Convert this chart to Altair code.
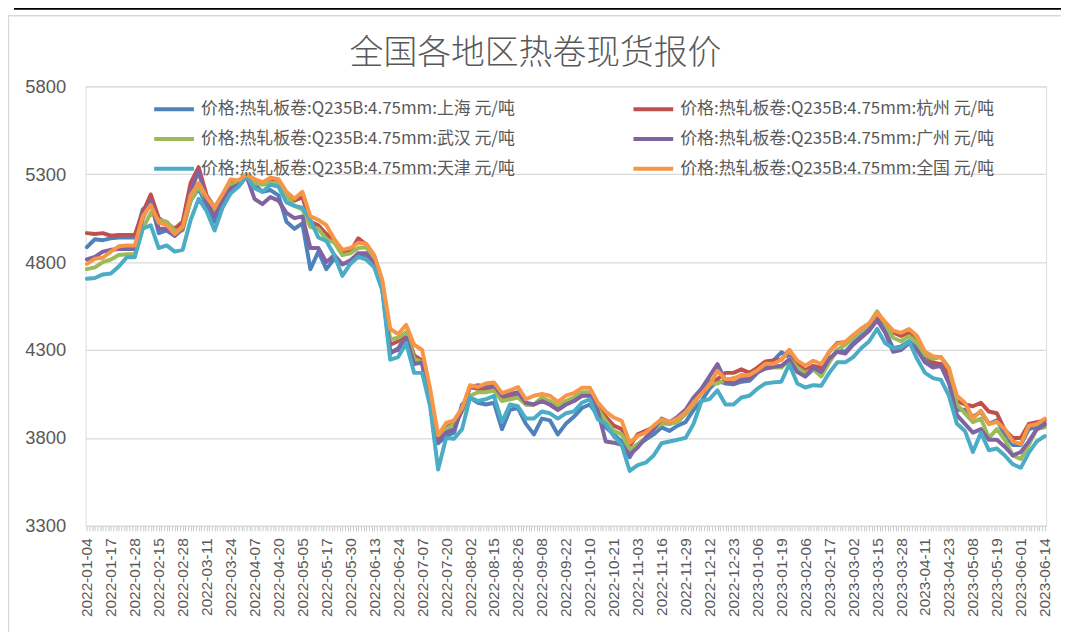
import altair as alt
import pandas as pd

# trading-day index (every 3rd trading day sampled)
idx = list(range(0, 361, 3))

shanghai = [4885, 4930, 4925, 4935, 4940, 4940, 4940,
            5100, 5140, 4965, 4980, 4950, 4990, 5150, 5220, 5120, 5030, 5130, 5210, 5230, 5290, 5240, 5200, 5210, 5180, 5030, 4990, 5020, 4760, 4860, 4760,
            4820, 4790, 4800, 4840, 4840, 4780, 4650, 4280, 4310, 4380, 4240, 4220, 4000, 3770, 3810, 3830, 3990, 4030, 4000, 3990, 4000, 3850, 3960, 3970, 3880, 3820, 3910, 3900, 3820, 3880, 3920, 3970,
            3990, 3930, 3860, 3820, 3780, 3690, 3764, 3790, 3820, 3860, 3840, 3870, 3890, 3960, 4010, 4080, 4125, 4110, 4105, 4120, 4125, 4170, 4200, 4240, 4287, 4260, 4180, 4150, 4190,
            4160, 4240, 4300, 4290, 4340, 4380, 4420, 4480, 4410, 4310, 4320, 4350, 4310, 4240, 4210, 4220, 4130, 3960, 3960, 3920, 3950, 3880, 3900, 3820, 3760, 3760, 3850, 3860, 3880]

hangzhou = [4965, 4960, 4965, 4950, 4955, 4955, 4955,
            5080, 5185, 5050, 5020, 4990, 5030, 5250, 5340, 5180, 5110, 5180, 5260, 5260, 5295, 5260, 5250, 5275, 5265, 5180, 5150, 5170, 5030, 5010, 4960,
            4920, 4855, 4860, 4935, 4900, 4830, 4680, 4330, 4350, 4400, 4270, 4240, 4030, 3790, 3860, 3880, 3960, 4090, 4080, 4070, 4080, 4020, 4030, 4040, 3990, 3990, 4010, 3990, 3960, 3990, 4010, 4040,
            4050, 3983, 3920, 3870, 3850, 3754, 3820, 3840, 3860, 3890, 3880, 3900, 3940, 3990, 4060, 4120, 4135, 4170, 4170, 4190, 4170, 4200, 4235, 4240, 4245, 4300, 4220, 4185, 4210,
            4200, 4290, 4340, 4344, 4380, 4420, 4450, 4490, 4450, 4400, 4380, 4400, 4340, 4270, 4230, 4220, 4170, 4010, 3990, 3980, 4000, 3950, 3940, 3845, 3800, 3800, 3880, 3890, 3900]

wuhan = [4760, 4770, 4800, 4815, 4840, 4845, 4845,
         4990, 5080, 5040, 5030, 4980, 4980, 5150, 5230, 5150, 5080, 5160, 5240, 5250, 5290, 5250, 5240, 5250, 5250, 5180, 5120, 5100, 5000, 4990, 4930,
         4910, 4840, 4850, 4880, 4885, 4810, 4680, 4360, 4370, 4400, 4250, 4230, 4020, 3800, 3850, 3880, 3950, 4040, 4060, 4060, 4070, 4010, 4020, 4030, 3990, 3990, 4030, 4010, 3980, 4010, 4030, 4060,
         4060, 3964, 3900, 3840, 3820, 3735, 3764, 3800, 3850, 3880, 3880, 3890, 3935, 3990, 4070, 4110, 4110, 4130, 4140, 4150, 4150, 4175, 4195, 4200, 4200, 4250, 4200, 4170, 4190,
         4150, 4230, 4300, 4330, 4370, 4410, 4450, 4520, 4450, 4370, 4350, 4380, 4340, 4270, 4250, 4260, 4200, 3990, 3940, 3890, 3910, 3800, 3850, 3790, 3700, 3680, 3760, 3850, 3860]

guangzhou = [4815, 4830, 4860, 4870, 4875, 4875, 4875,
             5050, 5150, 4990, 4990, 4950, 4990, 5200, 5320, 5140, 5060, 5150, 5220, 5240, 5290, 5160, 5130, 5170, 5150, 5080, 5050, 5060, 4880, 4880, 4800,
             4840, 4787, 4810, 4850, 4850, 4790, 4660, 4290, 4300, 4370, 4220, 4230, 4000, 3780, 3830, 3850, 3960, 4090, 4100, 4090, 4100, 4040, 4050, 4060, 4000, 3990, 4010, 3990, 3960, 3990, 4010, 4040,
             4040, 3954, 3780, 3773, 3760, 3706, 3745, 3800, 3850, 3910, 3890, 3920, 3960, 4030, 4080, 4150, 4220, 4125, 4110, 4130, 4135, 4175, 4195, 4205, 4210, 4245, 4175, 4150, 4200,
             4175, 4250, 4290, 4280, 4330, 4370, 4410, 4470, 4400, 4290, 4300, 4340, 4300, 4230, 4200, 4210, 4110, 3930, 3880, 3830, 3850, 3790, 3790, 3750, 3700, 3720, 3780, 3850, 3875]

tianjin = [4705, 4710, 4730, 4735, 4775, 4828, 4828,
           4990, 5010, 4880, 4895, 4860, 4870, 5040, 5160, 5090, 4980, 5110, 5190, 5230, 5290, 5220, 5200, 5240, 5230, 5140, 5120, 5110, 5040, 4940, 4920,
           4840, 4722, 4790, 4830, 4815, 4770, 4640, 4245, 4260, 4340, 4170, 4170, 3980, 3620, 3800, 3795, 3850, 4030, 4010, 4020, 4040, 3890, 3990, 3980, 3910, 3910, 3950, 3940, 3910, 3940, 3950, 4000,
           4020, 3906, 3880, 3810, 3760, 3612, 3645, 3659, 3700, 3770, 3780, 3790, 3800, 3880, 4010, 4021, 4070, 3990, 3990, 4030, 4040, 4080, 4110, 4116, 4120, 4220, 4110, 4087, 4100,
           4097, 4170, 4230, 4230, 4260, 4310, 4350, 4420, 4340, 4310, 4315, 4350, 4250, 4170, 4140, 4130, 4040, 3880, 3840, 3720, 3830, 3730, 3740, 3700, 3650, 3630, 3716, 3780, 3810]

national = [4790, 4819, 4825, 4860, 4890, 4894, 4894,
            5060, 5125, 5025, 5010, 4960, 5000, 5180, 5250, 5170, 5110, 5187, 5270, 5265, 5300, 5272, 5255, 5280, 5272, 5200, 5160, 5200, 5060, 5040, 5010,
            4930, 4870, 4880, 4910, 4905, 4840, 4700, 4420, 4390, 4443, 4330, 4300, 4080, 3815, 3885, 3900, 3970, 4100, 4090, 4110, 4115, 4055, 4070, 4090, 4020, 4040, 4050, 4040, 4005, 4040, 4055, 4085,
            4085, 4002, 3950, 3916, 3897, 3773, 3811, 3830, 3870, 3906, 3890, 3910, 3945, 4002, 4050, 4100, 4182, 4135, 4135, 4160, 4158, 4185, 4222, 4222, 4245, 4300, 4240, 4211, 4239,
            4220, 4290, 4335, 4344, 4385, 4420, 4450, 4510, 4460, 4410, 4398, 4420, 4380, 4290, 4265, 4258, 4192, 4040, 4000, 3910, 3955, 3878, 3892, 3850, 3780, 3765, 3870, 3878, 3910]

tick_dates = ["2022-01-04", "2022-01-17", "2022-01-28", "2022-02-15", "2022-02-28", "2022-03-11",
              "2022-03-24", "2022-04-07", "2022-04-20", "2022-05-05", "2022-05-17", "2022-05-30",
              "2022-06-13", "2022-06-24", "2022-07-07", "2022-07-20", "2022-08-02", "2022-08-15",
              "2022-08-26", "2022-09-08", "2022-09-22", "2022-10-10", "2022-10-21", "2022-11-03",
              "2022-11-16", "2022-11-29", "2022-12-12", "2022-12-23", "2023-01-06", "2023-01-19",
              "2023-02-06", "2023-02-17", "2023-03-02", "2023-03-15", "2023-03-28", "2023-04-11",
              "2023-04-23", "2023-05-08", "2023-05-19", "2023-06-01", "2023-06-14"]

title_text = "全国各地区热卷现货报价"

names = ["价格:热轧板卷:Q235B:4.75mm:上海 元/吨",
         "价格:热轧板卷:Q235B:4.75mm:杭州 元/吨",
         "价格:热轧板卷:Q235B:4.75mm:武汉 元/吨",
         "价格:热轧板卷:Q235B:4.75mm:广州 元/吨",
         "价格:热轧板卷:Q235B:4.75mm:天津 元/吨",
         "价格:热轧板卷:Q235B:4.75mm:全国 元/吨"]
colors = ["#4F81BD", "#C0504D", "#9BBB59", "#8064A2", "#4BACC6", "#F79646"]
series = [shanghai, hangzhou, wuhan, guangzhou, tianjin, national]

# legend fills column by column: left column 上海/武汉/天津, right column 杭州/广州/全国
legend_order = [0, 2, 4, 1, 3, 5]
legend_domain = [names[i] for i in legend_order]
legend_range = [colors[i] for i in legend_order]

rows = []
for k, (nm, vals) in enumerate(zip(names, series)):
    for i, v in zip(idx, vals):
        rows.append({"idx": i, "price": v, "series": nm, "ord": k})
df = pd.DataFrame(rows)

label_arr = "[" + ",".join("'" + d + "'" for d in tick_dates) + "]"
label_expr = f"datum.value % 9 == 0 ? {label_arr}[datum.value / 9] : ''"

GRAY = "#595959"
CJK = "Noto Sans CJK SC"

lines = alt.Chart(df).mark_line(strokeWidth=4, strokeJoin="round", strokeCap="round").encode(
    x=alt.X("idx:Q",
            scale=alt.Scale(domain=[-0.5, 360.5], nice=False, zero=False),
            axis=alt.Axis(values=list(range(361)), labelExpr=label_expr, labelAngle=270,
                          labelFontSize=15.5, labelFont="Liberation Sans", labelColor=GRAY,
                          labelOverlap=False, labelPadding=7, tickColor="#C8C8C8", tickSize=5,
                          tickWidth=1, domainColor="#D9D9D9", grid=False, title=None)),
    y=alt.Y("price:Q",
            scale=alt.Scale(domain=[3300, 5800], nice=False, zero=False),
            axis=alt.Axis(values=[3300, 3800, 4300, 4800, 5300, 5800], format="d", grid=True,
                          gridColor="#D9D9D9", gridWidth=1.2, domain=False, ticks=False,
                          labelFontSize=18.5, labelFont="Liberation Sans", labelColor=GRAY,
                          labelPadding=20, title=None)),
    color=alt.Color("series:N",
                    scale=alt.Scale(domain=legend_domain, range=legend_range),
                    legend=alt.Legend(orient="none", legendX=67, legendY=1, columns=2,
                                      columnPadding=111, rowPadding=-9.5, padding=0,
                                      symbolType="stroke", symbolSize=1600, symbolStrokeWidth=4,
                                      labelFontSize=17, labelFont=CJK, labelColor=GRAY,
                                      labelLimit=0, labelOffset=5, title=None)),
    order=alt.Order("idx:Q"),
)

one = pd.DataFrame({"a": [0]})
frame = alt.Chart(one).mark_rect(fill="transparent", stroke="#D9D9D9", strokeWidth=1.5).encode(
    x=alt.value(-77.5), x2=alt.value(1000), y=alt.value(-71), y2=alt.value(600))
topline = alt.Chart(one).mark_rule(color="#000000", strokeWidth=3).encode(
    x=alt.value(-72), x2=alt.value(981), y=alt.value(-78.5))
title = alt.Chart(one).mark_text(font=CJK, fontSize=34, fontWeight=300, color=GRAY,
                                 align="center", baseline="alphabetic").encode(
    text=alt.value(title_text), x=alt.value(452.5), y=alt.value(-22.5))

chart = alt.layer(frame, topline, title, lines).properties(
    width=966, height=442,
    autosize=alt.AutoSizeParams(type="none"),
    padding={"left": 78, "top": 77, "right": 15, "bottom": 105},
).configure_view(stroke=None).configure(background="white")

chart.save("out.html", embed_options={"renderer": "svg", "actions": False})
